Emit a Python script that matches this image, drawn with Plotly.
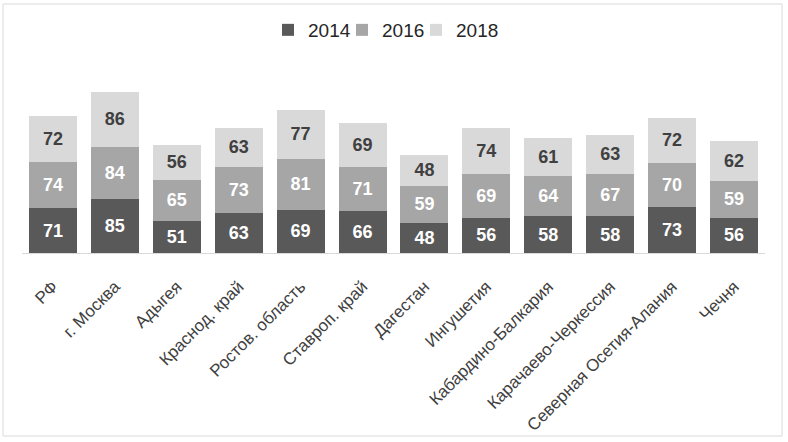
import plotly.graph_objects as go

categories = ["РФ", "г. Москва", "Адыгея", "Краснод. край", "Ростов. область",
              "Ставроп. край", "Дагестан", "Ингушетия", "Кабардино-Балкария",
              "Карачаево-Черкессия", "Северная Осетия-Алания", "Чечня"]
v2014 = [71, 85, 51, 63, 69, 66, 48, 56, 58, 58, 73, 56]
v2016 = [74, 84, 65, 73, 81, 71, 59, 69, 64, 67, 70, 59]
v2018 = [72, 86, 56, 63, 77, 69, 48, 74, 61, 63, 72, 62]
years = ["2014", "2016", "2018"]
series = [v2014, v2016, v2018]
colors = ["#595959", "#a6a6a6", "#d9d9d9"]
text_colors = ["#ffffff", "#ffffff", "#404040"]

FONT = "Liberation Sans, Arial, sans-serif"
W, H = 788, 442
ml, mr, mt, mb = 22, 23, 10, 189
pw = W - ml - mr
ph = H - mt - mb
px_per_unit = 0.63

legend_ids = ["legend", "legend2", "legend3"]
legend_px = [268, 342, 416]  # left edge of each legend entry, px

fig = go.Figure()
for name, vals, c, tc, lg in zip(years, series, colors, text_colors, legend_ids):
    fig.add_trace(go.Bar(
        x=categories, y=vals, name=name, marker_color=c, marker_line_width=0,
        text=[str(v) for v in vals], textposition="inside",
        insidetextanchor="middle", textangle=0, legend=lg, showlegend=True,
        textfont=dict(family=FONT, size=18, color=tc, weight="bold"),
    ))

legends = {}
for lg, lx in zip(legend_ids, legend_px):
    legends[lg] = dict(orientation="h", x=(lx - ml) / pw, xanchor="left",
                       y=(ph - 20) / ph, yanchor="middle",
                       font=dict(size=19, color="#262626"), visible=True,
                       itemwidth=30, itemclick=False, bgcolor="rgba(0,0,0,0)")

fig.update_layout(
    width=W, height=H, barmode="stack", bargap=0.225, showlegend=True,
    margin=dict(l=ml, r=mr, t=mt, b=mb, autoexpand=False),
    paper_bgcolor="white", plot_bgcolor="white",
    font=dict(family=FONT, color="#404040"),
    xaxis=dict(tickangle=-45, tickfont=dict(size=17, color="#404040"),
               showline=True, linecolor="#d9d9d9", linewidth=1, ticks="",
               ticklabelstandoff=16,
               showgrid=False, automargin=False),
    yaxis=dict(range=[0, ph / px_per_unit], visible=False, showgrid=False,
               automargin=False),
    shapes=[dict(type="rect", xref="paper", yref="paper",
                 x0=(3 - ml) / pw, x1=(782 - ml) / pw,
                 y0=(H - mb - 436) / ph, y1=(H - mb - 4) / ph,
                 line=dict(color="#d9d9d9", width=1), fillcolor="rgba(0,0,0,0)",
                 layer="below")],
    **legends,
)

fig.write_html("out.html", config={"displayModeBar": False},
               post_script="document.body.style.margin='0';")
